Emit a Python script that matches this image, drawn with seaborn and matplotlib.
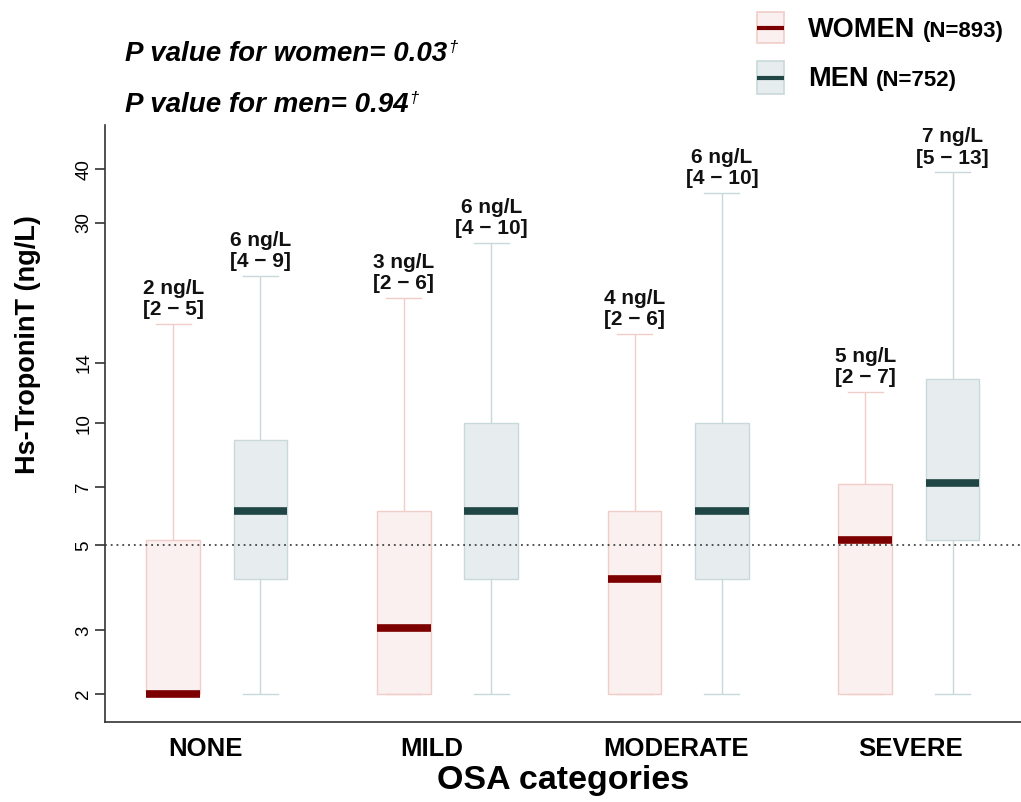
import numpy as np
import pandas as pd
import matplotlib
matplotlib.use("Agg")
import matplotlib.pyplot as plt
import matplotlib.transforms as mtransforms
from matplotlib.patches import Rectangle
from matplotlib.lines import Line2D
from matplotlib.ticker import NullLocator
import seaborn as sns

# ---------------- data ----------------
categories = ["NONE", "MILD", "MODERATE", "SEVERE"]
sexes = ["WOMEN", "MEN"]
# five-number summaries (ng/L): lower whisker, Q1, median, Q3, upper whisker
women_low = [2.0, 2.0, 2.0, 2.0]
women_q1 = [2.0, 2.0, 2.0, 2.0]
women_med = [2.0, 3.05, 4.1, 5.15]
women_q3 = [5.15, 6.1, 6.1, 7.1]
women_high = [17.3, 19.9, 16.4, 11.9]
men_low = [2.0, 2.0, 2.0, 2.0]
men_q1 = [4.1, 4.1, 4.1, 5.15]
men_med = [6.1, 6.1, 6.1, 7.15]
men_q3 = [9.1, 10.0, 10.0, 12.8]
men_high = [22.5, 26.9, 35.2, 39.3]
# printed annotations: median [IQR]
women_label_med = [2, 3, 4, 5]
women_label_iqr = [(2, 5), (2, 6), (2, 6), (2, 7)]
men_label_med = [6, 6, 6, 7]
men_label_iqr = [(4, 9), (4, 10), (4, 10), (5, 13)]
n_women = 893
n_men = 752
p_women = "0.03"
p_men = "0.94"
y_ticks = [2, 3, 5, 7, 10, 14, 30, 40]
reference_value = 5

# ---------------- build long table ----------------
rows = []
summ = {
    "WOMEN": [women_low, women_q1, women_med, women_q3, women_high],
    "MEN": [men_low, men_q1, men_med, men_q3, men_high],
}
for sex in sexes:
    for i, cat in enumerate(categories):
        for arr in summ[sex]:
            rows.append({"osa": cat, "sex": sex, "value": arr[i]})
df = pd.DataFrame(rows)

plt.rcParams["font.family"] = ["Liberation Sans", "DejaVu Sans"]

styles = {
    "WOMEN": dict(fill="#faf0ef", edge="#f1cdca", median="#7c0000"),
    "MEN": dict(fill="#e7edee", edge="#c9d9db", median="#1f4544"),
}

fig = plt.figure(figsize=(10.21, 8.02), dpi=100)
ax = fig.add_axes([0.1028, 0.0998, 0.8972, 0.7444])

WIDTH = 0.757
for sex in sexes:
    st = styles[sex]
    sns.boxplot(
        data=df[df["sex"] == sex], x="osa", y="value", hue="sex",
        order=categories, hue_order=sexes, dodge=True,
        width=WIDTH, gap=0.385, whis=(0, 100), saturation=1,
        palette={s: styles[s]["fill"] for s in sexes},
        linecolor=st["edge"], linewidth=1.0, fliersize=0,
        medianprops=dict(color=st["median"], linewidth=5.5, solid_capstyle="butt"),
        capwidths=0.152, legend=False, ax=ax,
    )

# scale resembling log(y + 0.5)
ax.set_yscale("function", functions=(lambda y: np.log(np.clip(y, -0.49, None) + 0.5),
                                      lambda t: np.exp(t) - 0.5))
ax.set_ylim(1.654, 50.7)
ax.set_xlim(-0.4848, 3.4857)
ax.set_yticks(y_ticks)
ax.set_yticklabels([str(t) for t in y_ticks], rotation=90, va="center")
ax.yaxis.set_minor_locator(NullLocator())

ax.axhline(reference_value, color="#444444", linestyle=(0, (1, 2.2)), linewidth=1.3, zorder=5)

# annotations above whiskers
off = WIDTH / 4
for i in range(len(categories)):
    for sex, sign, meds, iqrs, highs in [
        ("WOMEN", -1, women_label_med, women_label_iqr, women_high),
        ("MEN", 1, men_label_med, men_label_iqr, men_high),
    ]:
        a, b = iqrs[i]
        ax.annotate(f"{meds[i]} ng/L\n[{a} \u2212 {b}]", xy=(i + sign * off, highs[i]),
                    xytext=(0, 3.5), textcoords="offset points", ha="center", va="bottom",
                    fontsize=15, fontweight="bold", linespacing=1.15, color="#111111")

for s in ["top", "right"]:
    ax.spines[s].set_visible(False)
for s in ["left", "bottom"]:
    ax.spines[s].set_color("#333333")
    ax.spines[s].set_linewidth(1.2)
ax.tick_params(axis="y", length=7, width=1.2, color="#333333", labelsize=13.5, pad=2)
ax.tick_params(axis="x", length=0, pad=11)
label_shift_px = [-11, -16, -2, 2]
for lab, dx in zip(ax.get_xticklabels(), label_shift_px):
    lab.set_fontsize(18.5)
    lab.set_fontweight("bold")
    lab.set_transform(lab.get_transform() +
                      mtransforms.ScaledTranslation(dx / 100, 0, fig.dpi_scale_trans))

ax.set_xlabel("OSA categories", fontsize=24.5, fontweight="bold", va="top")
ax.xaxis.set_label_coords(0.5, -0.072)
ax.set_ylabel("Hs-TroponinT (ng/L)", fontsize=19.5, fontweight="bold")
ax.yaxis.set_label_coords(-0.07, 0.632)

# ---------------- header texts ----------------
W, H = 1021, 802
fig.canvas.draw()
renderer = fig.canvas.get_renderer()


def fx(px):
    return px / W


def fy(py):
    return 1 - py / H


for txt, base in [(f"P value for women= {p_women}", 61), (f"P value for men= {p_men}", 112)]:
    t = fig.text(fx(125), fy(base), txt, fontsize=20, fontweight="bold", style="italic",
                 va="baseline", ha="left")
    bb = t.get_window_extent(renderer)
    fig.text(bb.x1 / W + fx(1), fy(base - 9), "\u2020", fontsize=12, style="italic",
             va="baseline", ha="left")

# ---------------- legend ----------------
for sex, n, top, bot, mid, base in [
    ("WOMEN", n_women, 12, 43, 27.5, 36.7),
    ("MEN", n_men, 61, 94, 77.5, 86),
]:
    st = styles[sex]
    fig.add_artist(Rectangle((fx(757), fy(bot)), fx(27), (bot - top) / H,
                             transform=fig.transFigure, facecolor=st["fill"],
                             edgecolor=st["edge"], linewidth=1.2))
    fig.add_artist(Line2D([fx(757), fx(784)], [fy(mid), fy(mid)], transform=fig.transFigure,
                          color=st["median"], linewidth=3, solid_capstyle="butt"))
    t = fig.text(fx(808), fy(base), sex, fontsize=19.5, fontweight="bold", va="baseline", ha="left")
    bb = t.get_window_extent(renderer)
    fig.text(bb.x1 / W + fx(7), fy(base), f"(N={n})", fontsize=16, fontweight="bold",
             va="baseline", ha="left")

fig.savefig("out.png", dpi=100)
